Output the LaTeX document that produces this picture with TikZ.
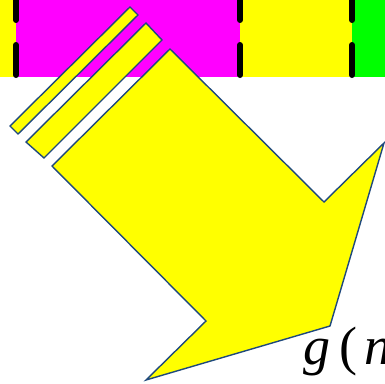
\documentclass[tikz,border=0pt]{standalone}
\usepackage{fontspec}
\usepackage{tikz}
\usetikzlibrary{positioning}
\newfontfamily\gnfont{Liberation Serif}
\definecolor{rimblue}{RGB}{31,73,125}
\definecolor{pyellow}{RGB}{255,255,0}
\definecolor{pmagenta}{RGB}{255,0,255}
\definecolor{pgreen}{RGB}{0,255,0}

\begin{document}
\begin{tikzpicture}[
  x=1pt,y=-1pt,
  bandline/.style={line width=6pt,line cap=round,dash pattern=on 30pt off 25pt},
  arrowbody/.style={fill=pyellow,draw=rimblue,line width=1.4pt,line join=miter},
  label/.style={font=\gnfont\fontsize{54}{62}\selectfont,inner sep=0pt,anchor=base west}
]
  \useasboundingbox (0,0) rectangle (385,383);
  \clip (0,0) rectangle (385,383);

  % 上の帯
  \fill[pyellow] (0,0) rectangle (16,77);
  \fill[pmagenta] (16,0) rectangle (240,77);
  \fill[pyellow] (240,0) rectangle (352,77);
  \fill[pgreen] (352,0) rectangle (385,77);

  % 帯の区切り
  \foreach \x in {16,240,352}{
    \draw[bandline] (\x,-10)--(\x,75);
  }

  % 細い棒
  \path[arrowbody] (130,7)--(138,15)--(18,134)--(10,126)--cycle;
  \path[arrowbody] (146,23)--(162,40)--(44,158)--(26,142)--cycle;

  % 矢印
  \path[arrowbody]
    (170,49)--(324,202)--(384,143)--(330,326)
    --(146,380)--(206,321)--(52,166)--cycle;

  % ラベル
  \node[label] (gn) at (303,364) {\textit{g}\kern9pt(\kern7pt\textit{n})};
\end{tikzpicture}
\end{document}
